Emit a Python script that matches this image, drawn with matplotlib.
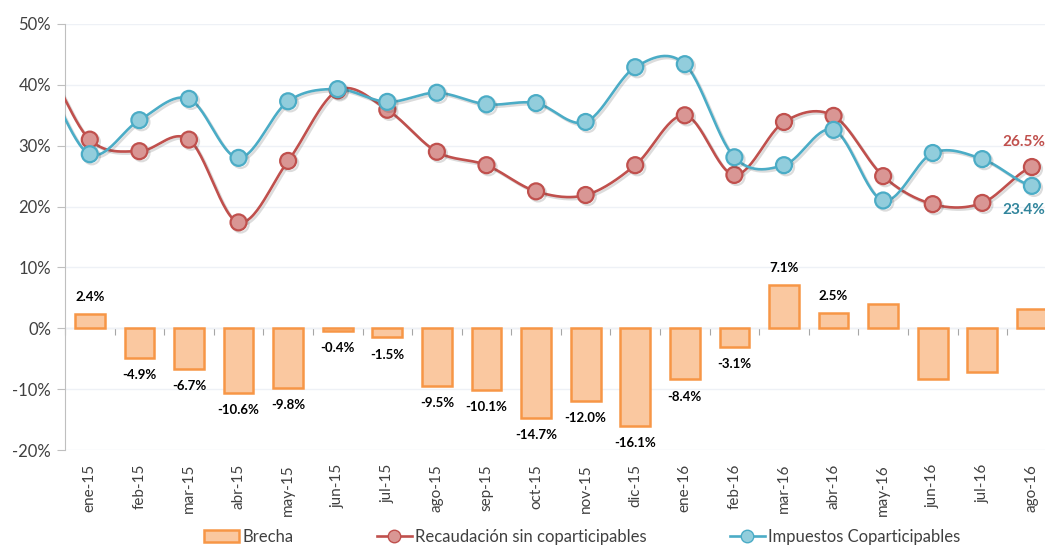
import numpy as np
import matplotlib
matplotlib.use('Agg')
from matplotlib import pyplot as plt
from matplotlib import patheffects as pe
from matplotlib.patches import Patch
from matplotlib.lines import Line2D
from matplotlib.ticker import FuncFormatter

plt.rcParams['font.family'] = ['Lato', 'DejaVu Sans']

meses = ['ene-15', 'feb-15', 'mar-15', 'abr-15', 'may-15', 'jun-15', 'jul-15',
         'ago-15', 'sep-15', 'oct-15', 'nov-15', 'dic-15', 'ene-16', 'feb-16',
         'mar-16', 'abr-16', 'may-16', 'jun-16', 'jul-16', 'ago-16']

recaudacion = [31.0, 29.1, 31.0, 17.4, 27.5, 39.1, 35.9, 29.0, 26.8, 22.5,
               21.9, 26.8, 35.0, 25.2, 33.9, 34.9, 25.0, 20.4, 20.6, 26.5]
coparticipables = [28.6, 34.2, 37.7, 28.0, 37.3, 39.3, 37.2, 38.7, 36.8, 37.0,
                   33.9, 42.9, 43.4, 28.1, 26.8, 32.6, 21.0, 28.8, 27.8, 23.4]
brecha = [2.4, -4.9, -6.7, -10.6, -9.8, -0.4, -1.5, -9.5, -10.1, -14.7,
          -12.0, -16.1, -8.4, -3.1, 7.1, 2.5, 4.0, -8.4, -7.1, 3.1]
# solo los primeros 16 meses llevan etiqueta
n_etiquetas = 16

# mes previo (dic-14), fuera del area visible, solo para el arranque de la curva
prev_rec = 44.0
prev_cop = 41.0

rojo = '#C0504D'
rojo_m = '#D99694'
azul = '#4BACC6'
azul_m = '#92CDDC'
naranja = '#F79646'
naranja_f = '#FAC8A0'
gris = '#404040'


def suavizar(xs, ys, n=30):
    # spline tipo Catmull-Rom, parecido al suavizado de Excel
    xs = np.asarray(xs, float)
    ys = np.asarray(ys, float)
    px = np.concatenate([[2 * xs[0] - xs[1]], xs, [2 * xs[-1] - xs[-2]]])
    py = np.concatenate([[ys[0]], ys, [ys[-1]]])
    out_x, out_y = [], []
    t = np.linspace(0, 1, n)
    for i in range(1, len(px) - 2):
        m0 = (py[i + 1] - py[i - 1]) / 2
        m1 = (py[i + 2] - py[i]) / 2
        h00 = 2 * t**3 - 3 * t**2 + 1
        h10 = t**3 - 2 * t**2 + t
        h01 = -2 * t**3 + 3 * t**2
        h11 = t**3 - t**2
        out_y.append(h00 * py[i] + h10 * m0 + h01 * py[i + 1] + h11 * m1)
        out_x.append(px[i] + t * (px[i + 1] - px[i]))
    return np.concatenate(out_x), np.concatenate(out_y)


fig = plt.figure(figsize=(10.45, 5.54), dpi=100)
ax = fig.add_axes([0.0622, 0.1877, 0.949, 0.769])

x = np.arange(len(meses))

ax.bar(x, brecha, width=0.6, color=naranja_f, edgecolor=naranja, linewidth=1.8, zorder=2)

for i in range(n_etiquetas):
    v = brecha[i]
    if v >= 0:
        ax.annotate(f'{v:.1f}%', (x[i], v), xytext=(0, 8), textcoords='offset points',
                    ha='center', va='bottom', fontsize=9.5, fontweight='bold', color='black')
    else:
        ax.annotate(f'{v:.1f}%', (x[i], v), xytext=(0, -8), textcoords='offset points',
                    ha='center', va='top', fontsize=9.5, fontweight='bold', color='black')

sombra = [pe.SimpleLineShadow(offset=(1.5, -1.5), alpha=0.18, shadow_color='#404040'), pe.Normal()]

xx = np.concatenate([[-1], x])
for prev, serie, col, colm in [(prev_rec, recaudacion, rojo, rojo_m),
                               (prev_cop, coparticipables, azul, azul_m)]:
    sx, sy = suavizar(xx, [prev] + serie)
    ax.plot(sx, sy, color=col, lw=1.9, zorder=3, path_effects=sombra)
    ax.plot(x, serie, ls='none', marker='o', ms=11.5, mfc=colm, mec=col, mew=1.6,
            zorder=4, path_effects=sombra)

ax.annotate(f'{recaudacion[-1]:.1f}%', (x[-1], recaudacion[-1]), xytext=(-6, 13),
            textcoords='offset points', ha='center', va='bottom', fontsize=11,
            fontweight='bold', color=rojo)
ax.annotate(f'{coparticipables[-1]:.1f}%', (x[-1], coparticipables[-1]), xytext=(-6, -12),
            textcoords='offset points', ha='center', va='top', fontsize=11,
            fontweight='bold', color='#31859C')

ax.set_xlim(-0.5, 19.5)
ax.set_ylim(-20, 50)
ax.set_yticks(np.arange(-20, 51, 10))
ax.yaxis.set_major_formatter(FuncFormatter(lambda v, p: f'{v:.0f}%'))
ax.grid(axis='y', color='#EEF1F6', lw=1, zorder=0)
ax.set_axisbelow(True)

ax.set_xticks(x)
ax.set_xticklabels(meses, rotation=90)
ax.tick_params(axis='x', length=0, pad=10, labelsize=11, labelcolor=gris)
ax.tick_params(axis='y', length=6, color='#BFBFBF', labelsize=12, labelcolor=gris, pad=4)

for s in ['top', 'right', 'bottom']:
    ax.spines[s].set_visible(False)
ax.spines['left'].set_color('#BFBFBF')

# eje de categorias sobre la linea del 0%
eje0 = ax.secondary_xaxis(20 / 70)
eje0.set_xticks(np.arange(-0.5, 20, 1))
eje0.set_xticklabels([])
eje0.tick_params(length=5, color='#A6A6A6', direction='out')
eje0.spines['bottom'].set_color('#A6A6A6')

handles = [Patch(facecolor=naranja_f, edgecolor=naranja, linewidth=1.8),
           Line2D([], [], color=rojo, lw=1.9, marker='o', ms=9, mfc=rojo_m, mec=rojo),
           Line2D([], [], color=azul, lw=1.9, marker='o', ms=9, mfc=azul_m, mec=azul)]
fig.legend(handles, ['Brecha', 'Recaudación sin coparticipables', 'Impuestos Coparticipables'],
           loc='lower center', bbox_to_anchor=(0.557, -0.01), ncol=3, frameon=False,
           fontsize=12, columnspacing=5.0, handlelength=2.1, handletextpad=0.2,
           labelcolor=gris)

fig.savefig('out.png', dpi=100)
